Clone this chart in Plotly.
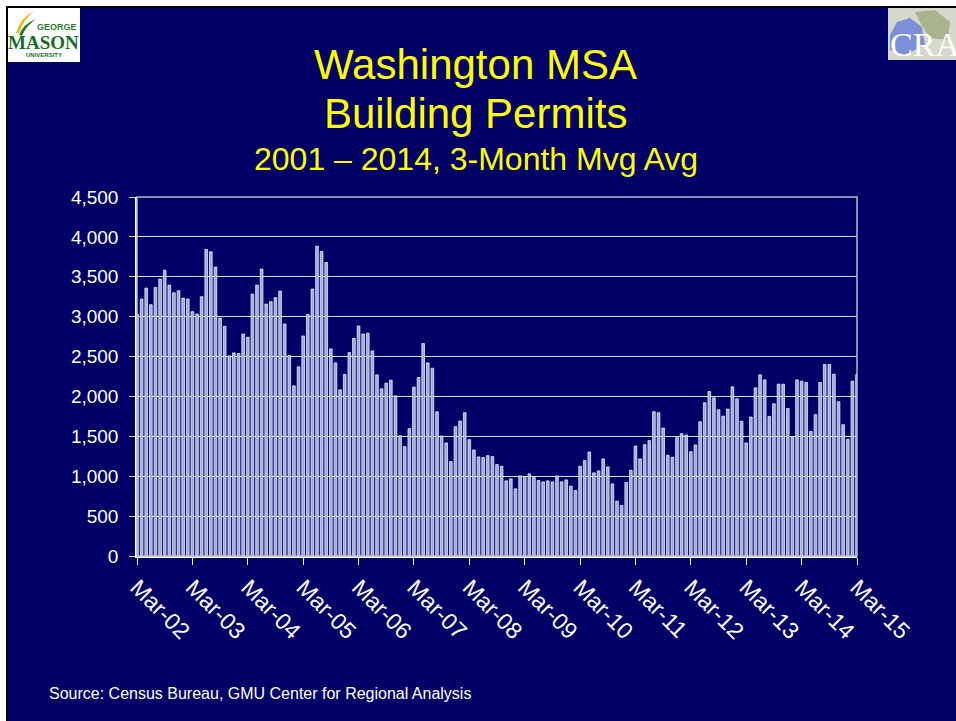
import pandas as pd
import plotly.graph_objects as go

# Monthly building permits, 3-month moving average, Mar-2002 .. Mar-2015
start_month = "2002-03-01"
permits = [
    3033, 3221, 3358, 3150, 3367, 3471, 3583, 3396, 3300, 3325, 3233, 3221, 3063,
    3033, 3250, 3842, 3813, 3621, 2983, 2879, 2508, 2546, 2538, 2783, 2742, 3283,
    3396, 3596, 3158, 3188, 3238, 3321, 2908, 2513, 2133, 2371, 2758, 3029, 3346,
    3883, 3817, 3679, 2596, 2421, 2083, 2275, 2550, 2729, 2883, 2783, 2792, 2571,
    2271, 2096, 2167, 2204, 2008, 1508, 1371, 1596, 2117, 2238, 2663, 2421, 2354,
    1808, 1504, 1417, 1183, 1621, 1692, 1796, 1458, 1329, 1242, 1233, 1258, 1246,
    1146, 1125, 942, 967, 842, 1004, 996, 1029, 983, 946, 929, 942, 929,
    1004, 929, 954, 875, 821, 1125, 1196, 1304, 1042, 1067, 1217, 1117, 904,
    688, 633, 921, 1075, 1379, 1217, 1396, 1446, 1808, 1796, 1604, 1263, 1238,
    1483, 1533, 1517, 1308, 1392, 1683, 1921, 2063, 1983, 1833, 1754, 1842, 2121,
    1971, 1688, 1417, 1742, 2108, 2271, 2208, 1750, 1908, 2154, 2154, 1850, 1496,
    2208, 2192, 2175, 1563, 1771, 2175, 2400, 2400, 2279, 1933, 1646, 1463, 2192,
    2275,
]
months = [d.strftime("%b-%y") for d in pd.date_range(start_month, periods=len(permits), freq="MS")]
tick_labels = months[::12]
y_ticks = list(range(0, 4501, 500))

title_lines = ["Washington MSA", "Building Permits"]
subtitle = "2001 \u2013 2014, 3-Month Mvg Avg"
source_note = "Source: Census Bureau, GMU Center for Regional Analysis"

W, H = 956, 721
L, R, T, B = 137, 857, 197, 556
NAVY = "#000066"
YELLOW = "#FFFF00"
FONT = "Arial, Liberation Sans, sans-serif"


def px(x):
    return (x - L) / (R - L)


def py(y):
    return (B - y) / (B - T)


fig = go.Figure()
fig.add_trace(go.Bar(
    x=months,
    y=permits,
    width=0.58,
    marker=dict(color="#9AA8DF", line=dict(color="#FFFFFF", width=0.7)),
    hoverinfo="x+y",
))

shapes = [
    # white outer strips and black slide edge
    dict(type="rect", xref="paper", yref="paper", x0=px(0), x1=px(W + 5), y0=py(0), y1=py(6.5),
         fillcolor="white", line_width=0, layer="above"),
    dict(type="rect", xref="paper", yref="paper", x0=px(0), x1=px(6.5), y0=py(0), y1=py(H + 5),
         fillcolor="white", line_width=0, layer="above"),
    dict(type="line", xref="paper", yref="paper", x0=px(6.5), x1=px(W + 5), y0=py(7), y1=py(7),
         line=dict(color="black", width=2), layer="above"),
    dict(type="line", xref="paper", yref="paper", x0=px(7), x1=px(7), y0=py(6.5), y1=py(H + 5),
         line=dict(color="black", width=2), layer="above"),
    # plot frame
    dict(type="rect", xref="paper", yref="paper", x0=0, x1=1, y0=0, y1=1,
         line=dict(color="#B8B8C8", width=1.5), layer="above"),
    # GMU logo box
    dict(type="rect", xref="paper", yref="paper", x0=px(8), x1=px(80), y0=py(62), y1=py(8),
         fillcolor="white", line_width=0, layer="above"),
    dict(type="path", xref="paper", yref="paper", layer="above",
         path=f"M {px(16)},{py(33)} Q {px(20)},{py(18)} {px(34)},{py(11)} "
              f"Q {px(24)},{py(19)} {px(19)},{py(33)} Z",
         fillcolor="#E8B820", line_width=0),
    dict(type="path", xref="paper", yref="paper", layer="above",
         path=f"M {px(19)},{py(35)} Q {px(23)},{py(24)} {px(36)},{py(19)} "
              f"Q {px(26)},{py(26)} {px(22)},{py(36)} Z",
         fillcolor="#2E7D32", line_width=0),
    # CRA logo box
    dict(type="rect", xref="paper", yref="paper", x0=px(888), x1=px(W + 2), y0=py(60), y1=py(8),
         fillcolor="#D6D8CC", line_width=0, layer="above"),
    dict(type="path", xref="paper", yref="paper", layer="above",
         path=f"M {px(890)},{py(35)} L {px(897)},{py(22)} L {px(910)},{py(18)} L {px(922)},{py(27)} "
              f"L {px(925)},{py(45)} L {px(905)},{py(55)} L {px(890)},{py(50)} Z",
         fillcolor="#7C90D8", line_width=0),
    dict(type="path", xref="paper", yref="paper", layer="above",
         path=f"M {px(915)},{py(12)} L {px(935)},{py(10)} L {px(950)},{py(22)} L {px(948)},{py(40)} "
              f"L {px(930)},{py(38)} L {px(922)},{py(26)} Z",
         fillcolor="#A9B38E", line_width=0),
]

annotations = [
    dict(text=title_lines[0], x=px(475), y=py(64), font=dict(size=42, color=YELLOW, family=FONT)),
    dict(text=title_lines[1], x=px(475), y=py(114), font=dict(size=42, color=YELLOW, family=FONT)),
    dict(text=subtitle, x=px(476), y=py(159), font=dict(size=32, color=YELLOW, family=FONT)),
    dict(text=source_note, x=px(47), y=py(693), xanchor="left",
         font=dict(size=16, color="white", family=FONT)),
    dict(text="<b>GEORGE</b>", x=px(57), y=py(27), font=dict(size=9, color="#2E7D32", family=FONT)),
    dict(text="<b>MASON</b>", x=px(44), y=py(42), font=dict(size=19, color="#1B6B2A",
                                                          family="Liberation Serif, serif")),
    dict(text="<b>UNIVERSITY</b>", x=px(44), y=py(55), font=dict(size=6, color="#1B6B2A", family=FONT)),
    dict(text="CRA", x=px(888), y=py(45), xanchor="left",
         font=dict(size=34, color="white", family="Liberation Serif, serif")),
]
for a in annotations:
    a.update(xref="paper", yref="paper", showarrow=False)
    a.setdefault("xanchor", "center")
    a.setdefault("yanchor", "middle")

fig.update_layout(
    width=W,
    height=H,
    autosize=False,
    margin=dict(l=L, r=W - R, t=T, b=H - B, pad=0),
    paper_bgcolor=NAVY,
    plot_bgcolor=NAVY,
    showlegend=False,
    bargap=0.42,
    shapes=shapes,
    annotations=annotations,
    xaxis=dict(
        type="category",
        range=[0, len(permits) - 1],
        tickmode="array",
        tickvals=tick_labels,
        ticktext=tick_labels,
        tickangle=45,
        ticks="outside",
        ticklen=7,
        tickcolor="white",
        showline=True,
        linecolor="white",
        linewidth=1.5,
        showgrid=False,
        tickfont=dict(size=23, color="white", family=FONT),
        fixedrange=True,
    ),
    yaxis=dict(
        range=[0, 4500],
        tickvals=y_ticks,
        tickformat=",",
        ticks="outside",
        ticklen=6,
        tickcolor="#D0D0D8",
        ticklabelstandoff=7,
        showline=True,
        linecolor="white",
        linewidth=1.5,
        showgrid=True,
        gridcolor="#D8D8E6",
        gridwidth=1,
        zeroline=False,
        tickfont=dict(size=19, color="white", family=FONT),
        fixedrange=True,
    ),
)

fig.write_html("out.html")
